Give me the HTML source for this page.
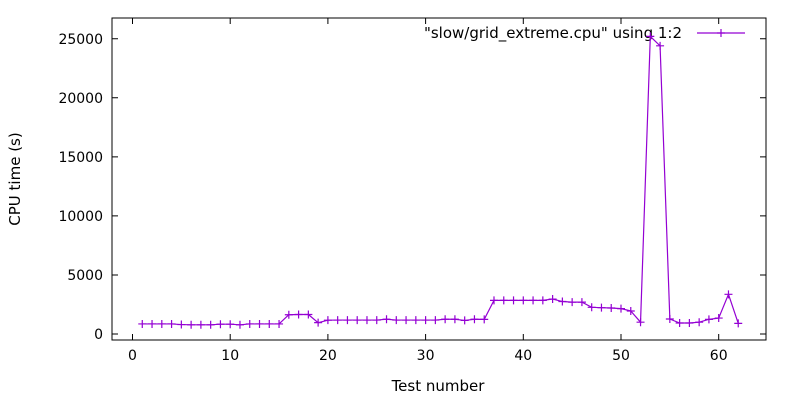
<!DOCTYPE html>
<html><head><meta charset="utf-8"><style>
body{margin:0;background:#fff;}
svg{display:block;font-family:"DejaVu Sans","Liberation Sans",sans-serif;}
</style></head><body>
<svg id="chart" width="800" height="400" viewBox="0 0 800 400" xmlns="http://www.w3.org/2000/svg">
<rect width="800" height="400" fill="#fff"/>
<g id="axes"></g>
<text x="20" y="179" font-size="15" text-anchor="middle" transform="rotate(-90 20 179)">CPU time (s)</text>
<text x="438" y="391" font-size="15" text-anchor="middle">Test number</text>
<g>
<text x="682" y="38" font-size="15" text-anchor="end">"slow/grid_extreme.cpu" using 1:2</text>
<line x1="697" y1="33" x2="745" y2="33" stroke="#9400d3" stroke-width="1.2"/>
<path d="M717 33h8M721 29v8" stroke="#9400d3" stroke-width="1.2"/>
</g>
<g id="series"></g>
</svg>
<script>
const testNumbers=[1,2,3,4,5,6,7,8,9,10,11,12,13,14,15,16,17,18,19,20,21,22,23,24,25,26,27,28,29,30,31,32,33,34,35,36,37,38,39,40,41,42,43,44,45,46,47,48,49,50,51,52,53,54,55,56,57,58,59,60,61,62];
const cpuTimes=[850,850,850,850,800,780,780,780,830,830,780,850,850,850,850,1630,1650,1650,960,1170,1180,1180,1180,1180,1180,1250,1180,1180,1180,1180,1180,1250,1250,1150,1250,1240,2850,2850,2850,2850,2850,2850,2960,2750,2700,2700,2260,2230,2200,2150,1950,1000,25200,24400,1270,930,930,1000,1240,1350,3360,900];
const xTicks=[0,10,20,30,40,50,60];
const yTicks=[0,5000,10000,15000,20000,25000];
const L=112,R=766,T=18,B=340;
const xs=v=>132.5+v*9.77;
const ys=v=>334-v*0.01181;
const NS="http://www.w3.org/2000/svg";
const ax=document.getElementById('axes');
function mk(tag,attrs,parent){const e=document.createElementNS(NS,tag);for(const k in attrs)e.setAttribute(k,attrs[k]);parent.appendChild(e);return e;}
const frame=mk('rect',{x:L,y:T,width:R-L,height:B-T,fill:'none',stroke:'#000','stroke-width':1},ax);


xTicks.forEach(t=>{
  const x=xs(t);
  const tk=mk('path',{d:`M${x} ${B}v-6M${x} ${T}v6`,stroke:'#000','stroke-width':1},ax);
  
  
  const tx=mk('text',{x:x,y:B+20,'font-size':14,'text-anchor':'middle'},ax);
  tx.textContent=t;
  
  
});
yTicks.forEach(t=>{
  const y=ys(t);
  const tk=mk('path',{d:`M${L} ${y}h6M${R} ${y}h-6`,stroke:'#000','stroke-width':1},ax);
  
  
  const tx=mk('text',{x:L-9,y:y+5,'font-size':14,'text-anchor':'end'},ax);
  tx.textContent=t;
  
  
});
const sg=document.getElementById('series');
const pts=testNumbers.map((n,i)=>[xs(n),ys(cpuTimes[i])]);
const line=mk('polyline',{points:pts.map(p=>p.join(',')).join(' '),fill:'none',stroke:'#9400d3','stroke-width':1.2},sg);


pts.forEach(p=>{
  const m=mk('path',{d:`M${p[0]-4} ${p[1]}h8M${p[0]} ${p[1]-4}v8`,stroke:'#9400d3','stroke-width':1.2},sg);
  
  
});
</script>
</body></html>
